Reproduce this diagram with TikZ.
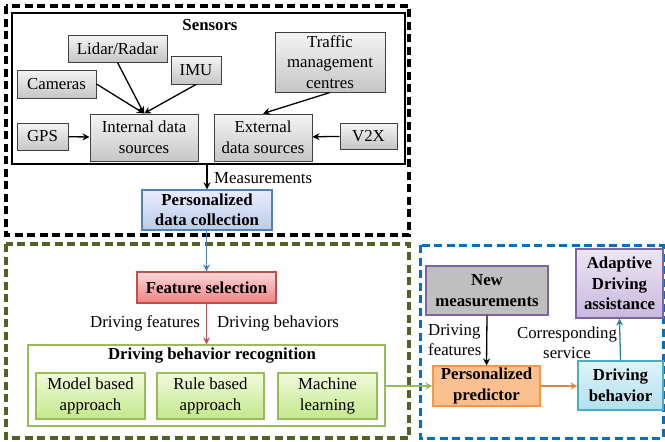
\documentclass[tikz,border=0pt]{standalone}
\usepackage{fontspec}
\setmainfont{Liberation Serif}
\usetikzlibrary{arrows.meta,shadows}
\definecolor{pdcB}{HTML}{4F81BD}
\definecolor{fsR}{HTML}{C0504D}
\definecolor{grn}{HTML}{9BBB59}
\definecolor{olive}{HTML}{4F6228}
\definecolor{dblue}{HTML}{0070C0}
\definecolor{purp}{HTML}{8064A2}
\definecolor{orng}{HTML}{F79646}
\definecolor{cyanB}{HTML}{4BACC6}
\definecolor{teal2}{HTML}{31859C}
\tikzset{
  base/.style={draw, rectangle, align=center, inner sep=1pt,
    drop shadow={shadow xshift=1.3pt, shadow yshift=-1.3pt, fill=black!35, opacity=0.45}},
  graybox/.style={base, draw=black!75, line width=1pt, top color=gray!8, bottom color=gray!45},
  pdcbox/.style={base, draw=pdcB, line width=1.1pt, top color=blue!8!white, bottom color={rgb,255:red,185;green,205;blue,229}},
  fsbox/.style={base, draw=fsR, line width=1.1pt, top color={rgb,255:red,252;green,215;blue,215}, bottom color={rgb,255:red,238;green,130;blue,130}},
  grnbox/.style={base, draw=grn, line width=1.1pt, top color={rgb,255:red,240;green,250;blue,220}, bottom color={rgb,255:red,196;green,232;blue,140}},
  nmbox/.style={base, draw=purp, line width=1.1pt, fill=gray!50},
  adbox/.style={base, draw=purp, line width=1.1pt, top color={rgb,255:red,236;green,230;blue,244}, bottom color={rgb,255:red,200;green,184;blue,222}},
  ppbox/.style={base, draw=orng, line width=1.1pt, fill={rgb,255:red,250;green,192;blue,144}},
  dbbox/.style={base, draw=cyanB, line width=1.1pt, top color={rgb,255:red,225;green,243;blue,248}, bottom color={rgb,255:red,178;green,224;blue,238}},
  arr/.style={-{Stealth[length=7pt,width=7pt]}, line width=1.3pt},
  bigdash/.style={line width=3.4pt, dash pattern=on 8pt off 4.5pt},
  lbl/.style={inner sep=0pt, align=center},
  bf/.style={font=\fontsize{16.8}{20.5}\selectfont\bfseries},
}
\begin{document}
\begin{tikzpicture}[x=1pt,y=-1pt, font=\fontsize{16.8}{20.5}\selectfont]
\useasboundingbox (0,0) rectangle (665,442);
% outer dashed regions
\draw[bigdash, black] (6,6) rectangle (409,235);
\draw[bigdash, olive] (6,244) rectangle (409,438);
\draw[bigdash, dblue, line width=3pt] (420,245) rectangle (663,438);

% sensors box
\node[draw, line width=2.2pt, minimum width=393pt, minimum height=151pt, inner sep=0pt] (sensors) at (208.5,88.5) {};
\node[lbl, bf] (senst) at (210,25) {Sensors};

\node[graybox, minimum width=99pt, minimum height=27pt] (lidar) at (117.5,48.5) {Lidar/Radar};
\node[graybox, minimum width=50pt, minimum height=28pt] (imu) at (196,70) {IMU};
\node[graybox, minimum width=79pt, minimum height=28pt] (cam) at (56.5,84) {Cameras};
\node[graybox, minimum width=51pt, minimum height=27pt] (gps) at (42.5,136.5) {GPS};
\node[graybox, minimum width=108pt, minimum height=47pt] (internal) at (144,137.5) {Internal data\\sources};
\node[graybox, minimum width=98pt, minimum height=47pt] (external) at (263,137.5) {External\\data sources};
\node[graybox, minimum width=110pt, minimum height=60pt] (traffic) at (330,62) {Traffic\\management\\centres};
\node[graybox, minimum width=57pt, minimum height=26pt] (v2x) at (368.5,136) {V2X};

\draw[arr] (lidar.south) -- (internal.north);
\draw[arr] (cam.east) -- (internal.north);
\draw[arr] (imu.south) -- (internal.north);
\draw[arr] (gps) -- (internal);
\draw[arr] (traffic.south) -- (external.north);
\draw[arr] (v2x) -- (external);

% personalized data collection
\node[pdcbox, minimum width=130pt, minimum height=40pt, bf] (pdc) at (207,210) {Personalized\\data collection};
\draw[arr] (pdc.north |- sensors.south) -- (pdc.north);
\node[lbl, anchor=west] (meas) at (214,178) {Measurements};

% feature selection
\node[fsbox, minimum width=139pt, minimum height=31pt, bf] (fs) at (206.5,287.5) {Feature selection};
\draw[arr, draw=pdcB, fill=pdcB] (pdc.south -| fs.north) -- (fs.north);

% driving behavior recognition
\node[draw=grn, line width=1.3pt, fill=white, minimum width=357pt, minimum height=81pt, inner sep=0pt] (dbr) at (206.5,385.5) {};
\node[lbl, bf] (dbrt) at (212,356) {Driving behavior recognition};
\draw[arr, draw=fsR, fill=fsR] (fs.south) -- (dbr.north -| fs.south);
\node[lbl, anchor=east] (dfeat) at (200,323) {Driving features};
\node[lbl, anchor=west] (dbeh) at (217,323) {Driving behaviors};

\node[grnbox, minimum width=109pt, minimum height=46pt] (model) at (90.5,396) {Model based\\approach};
\node[grnbox, minimum width=107pt, minimum height=46pt] (rule) at (210.5,396) {Rule based\\approach};
\node[grnbox, minimum width=99pt, minimum height=46pt] (ml) at (327.5,396) {Machine\\learning};

% right part
\node[nmbox, minimum width=122pt, minimum height=49pt, bf] (newm) at (487,290.5) {New\\measurements};
\node[adbox, minimum width=87pt, minimum height=69pt, bf] (adapt) at (619.5,283.5) {Adaptive\\Driving\\assistance};
\node[ppbox, minimum width=107pt, minimum height=40pt, bf] (pp) at (486.5,386) {Personalized\\predictor};
\node[dbbox, minimum width=85pt, minimum height=49pt, bf] (db) at (620.5,385.5) {Driving\\behavior};

\draw[arr] (newm.south) -- (pp.north);
\node[lbl, align=left, anchor=west] (df2) at (428,340) {Driving\\features};
\draw[arr, draw=grn, fill=grn] (dbr.east |- pp.west) -- (pp.west);
\draw[arr, draw=orng!90!black, fill=orng!90!black] (pp.east) -- (db.west |- pp.east);
\draw[arr, draw=teal2, fill=teal2] (db.north) -- (adapt.south);
\node[lbl] (cs) at (567,343) {Corresponding\\service};
\end{tikzpicture}
\end{document}
